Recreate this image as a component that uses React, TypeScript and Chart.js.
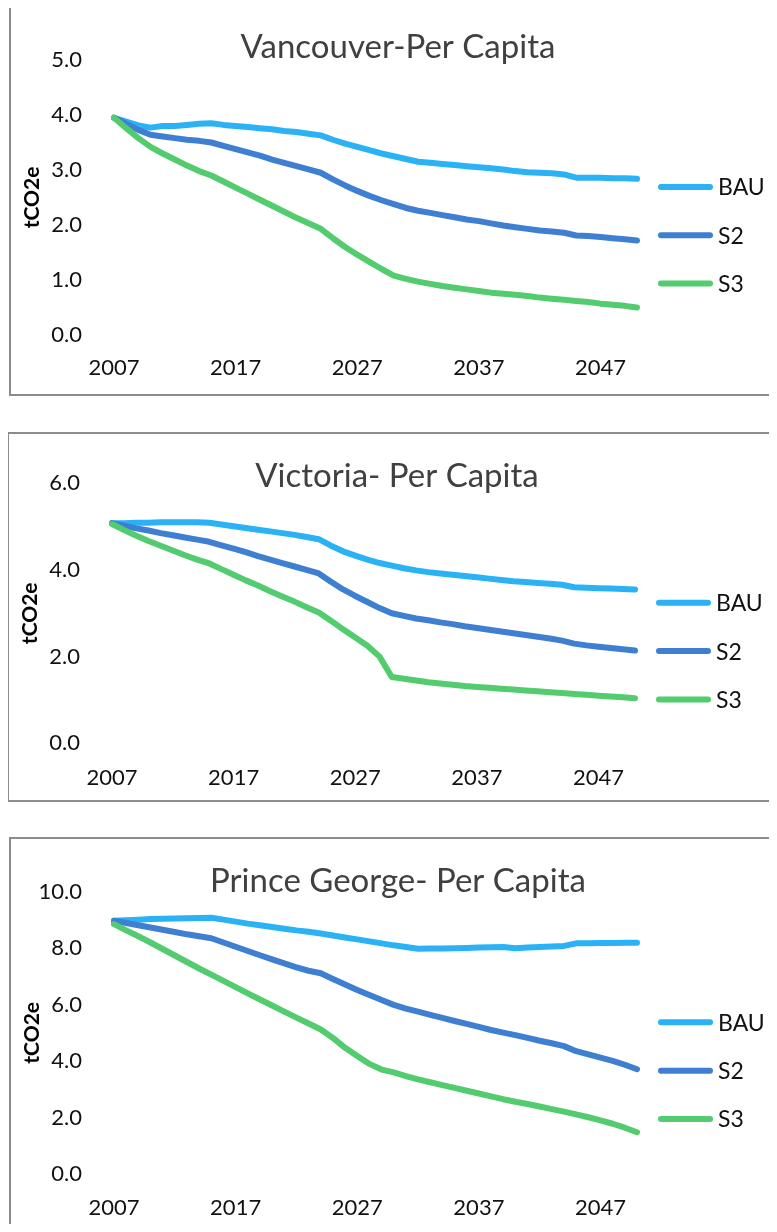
import React, { useEffect, useRef } from 'react';
import { Chart, registerables } from 'chart.js';

Chart.register(...registerables);

// ---------- DATA ----------
const years = [
  '2007', '2008', '2009', '2010', '2011', '2012', '2013', '2014', '2015', '2016',
  '2017', '2018', '2019', '2020', '2021', '2022', '2023', '2024', '2025', '2026',
  '2027', '2028', '2029', '2030', '2031', '2032', '2033', '2034', '2035', '2036',
  '2037', '2038', '2039', '2040', '2041', '2042', '2043', '2044', '2045', '2046',
  '2047', '2048', '2049', '2050',
];
const xTickLabels = ['2007', '2017', '2027', '2037', '2047'];
const seriesNames = ['BAU', 'S2', 'S3'];
const yAxisTitle = 'tCO2e';

const vancouverBAU = [
  3.95, 3.88, 3.81, 3.77, 3.80, 3.80, 3.82, 3.84, 3.85, 3.82,
  3.80, 3.78, 3.76, 3.74, 3.71, 3.69, 3.66, 3.63, 3.55, 3.48,
  3.42, 3.36, 3.30, 3.25, 3.20, 3.15, 3.13, 3.11, 3.09, 3.07,
  3.05, 3.03, 3.01, 2.98, 2.96, 2.95, 2.94, 2.92, 2.86, 2.86,
  2.86, 2.85, 2.85, 2.84,
];
const vancouverS2 = [
  3.95, 3.84, 3.73, 3.64, 3.61, 3.58, 3.55, 3.53, 3.50, 3.44,
  3.38, 3.32, 3.26, 3.19, 3.13, 3.07, 3.01, 2.95, 2.83, 2.72,
  2.62, 2.53, 2.45, 2.38, 2.31, 2.26, 2.22, 2.18, 2.14, 2.10,
  2.07, 2.03, 1.99, 1.96, 1.93, 1.90, 1.88, 1.86, 1.81, 1.80,
  1.78, 1.76, 1.74, 1.72,
];
const vancouverS3 = [
  3.95, 3.76, 3.58, 3.42, 3.30, 3.19, 3.08, 2.98, 2.90, 2.79,
  2.68, 2.57, 2.46, 2.35, 2.24, 2.13, 2.03, 1.93, 1.76, 1.60,
  1.46, 1.33, 1.20, 1.08, 1.02, 0.97, 0.93, 0.89, 0.86, 0.83,
  0.80, 0.77, 0.75, 0.73, 0.71, 0.68, 0.66, 0.64, 0.62, 0.60,
  0.57, 0.55, 0.53, 0.50,
];

const victoriaBAU = [
  5.08, 5.08, 5.09, 5.09, 5.10, 5.10, 5.10, 5.10, 5.09, 5.05,
  5.01, 4.97, 4.93, 4.89, 4.85, 4.81, 4.76, 4.71, 4.56, 4.43,
  4.33, 4.24, 4.16, 4.10, 4.04, 3.99, 3.95, 3.92, 3.89, 3.86,
  3.83, 3.80, 3.77, 3.74, 3.72, 3.70, 3.68, 3.66, 3.60, 3.59,
  3.58, 3.57, 3.56, 3.55,
];
const victoriaS2 = [
  5.08, 5.02, 4.96, 4.91, 4.85, 4.80, 4.75, 4.70, 4.65, 4.57,
  4.49, 4.41, 4.32, 4.24, 4.16, 4.08, 4.00, 3.92, 3.73, 3.55,
  3.40, 3.26, 3.12, 3.00, 2.94, 2.88, 2.84, 2.79, 2.75, 2.70,
  2.66, 2.62, 2.58, 2.54, 2.50, 2.46, 2.42, 2.37, 2.30, 2.26,
  2.23, 2.20, 2.17, 2.14,
];
const victoriaS3 = [
  5.06, 4.92, 4.79, 4.67, 4.56, 4.45, 4.34, 4.24, 4.15, 4.02,
  3.89, 3.76, 3.64, 3.51, 3.39, 3.27, 3.14, 3.02, 2.83, 2.63,
  2.44, 2.25, 2.00, 1.53, 1.49, 1.45, 1.41, 1.38, 1.35, 1.32,
  1.30, 1.28, 1.26, 1.24, 1.22, 1.20, 1.18, 1.16, 1.14, 1.12,
  1.10, 1.08, 1.06, 1.04,
];

const princeGeorgeBAU = [
  8.97, 8.99, 9.01, 9.03, 9.04, 9.05, 9.06, 9.07, 9.08, 9.01,
  8.94, 8.87, 8.81, 8.75, 8.69, 8.63, 8.58, 8.52, 8.45, 8.38,
  8.31, 8.24, 8.17, 8.10, 8.04, 7.98, 7.99, 7.99, 8.00, 8.01,
  8.02, 8.03, 8.04, 8.00, 8.02, 8.04, 8.06, 8.08, 8.17, 8.17,
  8.18, 8.18, 8.19, 8.19,
];
const princeGeorgeS2 = [
  8.97, 8.89, 8.81, 8.73, 8.65, 8.57, 8.49, 8.42, 8.35, 8.20,
  8.05, 7.90, 7.75, 7.60, 7.46, 7.32, 7.20, 7.11, 6.91, 6.71,
  6.52, 6.34, 6.16, 5.99, 5.86, 5.75, 5.64, 5.53, 5.42, 5.32,
  5.21, 5.10, 5.01, 4.92, 4.82, 4.72, 4.63, 4.53, 4.35, 4.24,
  4.12, 4.01, 3.87, 3.71,
];
const princeGeorgeS3 = [
  8.85, 8.63, 8.42, 8.20, 7.97, 7.74, 7.51, 7.28, 7.06, 6.84,
  6.62, 6.40, 6.18, 5.97, 5.75, 5.54, 5.33, 5.12, 4.82, 4.47,
  4.18, 3.90, 3.70, 3.60, 3.47, 3.35, 3.25, 3.15, 3.05, 2.95,
  2.85, 2.75, 2.65, 2.56, 2.48, 2.39, 2.30, 2.21, 2.11, 2.01,
  1.90, 1.78, 1.64, 1.48,
];

// ---------- STYLE ----------
const FONT = 'Lato, "Open Sans", sans-serif';
const COLORS = ['#2AB2F4', '#3F7FD2', '#53CB6F'];
const TICK_COLOR = '#111111';

const sideLegendPlugin = {
  id: 'sideLegend',
  afterDatasetsDraw(chart: any, _args: any, opts: any) {
    const { ctx, chartArea } = chart;
    const ds = chart.data.datasets;
    const n = ds.length;
    const cy = (chartArea.top + chartArea.bottom) / 2 + opts.centerOffset;
    ctx.save();
    ds.forEach((d: any, i: number) => {
      const y = cy + (i - (n - 1) / 2) * opts.spacing;
      const x0 = chartArea.right + opts.offsetX;
      ctx.strokeStyle = d.borderColor;
      ctx.lineWidth = opts.lineWidth;
      ctx.lineCap = 'round';
      ctx.beginPath();
      ctx.moveTo(x0, y);
      ctx.lineTo(x0 + opts.lineLength, y);
      ctx.stroke();
      ctx.fillStyle = opts.color;
      ctx.font = `${opts.fontSize}px ${FONT}`;
      ctx.textBaseline = 'middle';
      ctx.textAlign = 'left';
      ctx.fillText(d.label, x0 + opts.lineLength + opts.gap, y + 1);
    });
    ctx.restore();
  },
};

type Params = {
  title: string;
  series: number[][];
  yMax: number;
  yStep: number;
  width: number;
  height: number;
  plotTop: number;
  plotBottom: number;
  titleCenter: number;
  xLabelOffset: number;
  yScaleWidth: number;
  plotRight: number;
};

function makeConfig(p: Params): any {
  const titleSize = 33;
  const titleLH = 0.3;
  const half = (titleSize * titleLH) / 2;
  const tickSize = 22;
  const tickLH = tickSize * 1.2;
  const xPad = p.xLabelOffset - tickLH / 2;
  // Chart.js counts the tick padding twice in the scale height
  const xScaleH = 2 * xPad + tickLH;
  const padBottom = p.height - p.plotBottom - xScaleH;
  const spacerW = p.width - p.plotRight;
  return {
    type: 'line',
    data: {
      labels: years,
      datasets: seriesNames.map((name, i) => ({
        label: name,
        data: p.series[i],
        borderColor: COLORS[i],
        backgroundColor: COLORS[i],
        borderWidth: 6,
        pointRadius: 0,
        pointHoverRadius: 0,
        tension: 0,
        fill: false,
        borderCapStyle: 'round',
        borderJoinStyle: 'round',
        order: seriesNames.length - 1 - i,
      })),
    },
    options: {
      responsive: false,
      animation: false,
      events: [],
      layout: { padding: { left: 0, right: 0, top: 0, bottom: padBottom } },
      plugins: {
        legend: { display: false },
        tooltip: { enabled: false },
        title: {
          display: true,
          text: p.title,
          color: '#404040',
          font: { family: FONT, size: titleSize, weight: 'normal', lineHeight: titleLH },
          padding: { top: p.titleCenter - half, bottom: p.plotTop - p.titleCenter - half },
        },
        sideLegend: {
          centerOffset: 37.8,
          spacing: 48.3,
          offsetX: 24,
          lineLength: 49,
          lineWidth: 6,
          gap: 8,
          fontSize: 23,
          color: TICK_COLOR,
        },
      },
      scales: {
        x: {
          type: 'category',
          offset: false,
          grid: { display: false, drawTicks: false },
          border: { display: false },
          ticks: {
            autoSkip: false,
            maxRotation: 0,
            minRotation: 0,
            padding: xPad,
            color: TICK_COLOR,
            font: { family: FONT, size: tickSize },
            callback: (_v: any, i: number) => (xTickLabels.includes(years[i]) ? years[i] : ''),
          },
        },
        y: {
          type: 'linear',
          position: 'left',
          min: 0,
          max: p.yMax,
          grid: { display: false, drawTicks: false },
          border: { display: false },
          ticks: {
            stepSize: p.yStep,
            padding: 32,
            color: TICK_COLOR,
            font: { family: FONT, size: tickSize },
            callback: (v: any) => Number(v).toFixed(1),
          },
          title: {
            display: true,
            text: yAxisTitle,
            color: '#000000',
            font: { family: FONT, size: 21, weight: 'bold' },
            padding: { top: 11, bottom: 0 },
          },
          afterFit: (s: any) => {
            s.width = p.yScaleWidth;
          },
        },
        spacer: {
          type: 'linear',
          position: 'right',
          display: true,
          grid: { display: false, drawTicks: false },
          border: { display: false },
          ticks: { display: false },
          afterFit: (s: any) => {
            s.width = spacerW;
          },
        },
      },
    },
    plugins: [sideLegendPlugin],
  };
}

function LineChart({ params, left, top }: { params: Params; left: number; top: number }) {
  const ref = useRef<HTMLCanvasElement>(null);
  useEffect(() => {
    if (!ref.current) return;
    const chart = new Chart(ref.current, makeConfig(params));
    return () => chart.destroy();
  }, []);
  return (
    <canvas
      ref={ref}
      width={params.width}
      height={params.height}
      style={{ position: 'absolute', left, top, width: params.width, height: params.height }}
    />
  );
}

function Frame({ left, top, height }: { left: number; top: number; height: number }) {
  return (
    <div
      style={{
        position: 'absolute',
        left,
        top,
        width: 820,
        height,
        border: '2px solid #8c8c8c',
        boxSizing: 'border-box',
      }}
    />
  );
}

const chart1: Params = {
  title: 'Vancouver-Per Capita',
  series: [vancouverBAU, vancouverS2, vancouverS3],
  yMax: 5,
  yStep: 1,
  width: 778,
  height: 391,
  plotTop: 55,
  plotBottom: 330,
  titleCenter: 42,
  xLabelOffset: 33.3,
  yScaleWidth: 105,
  plotRight: 628,
};

const chart2: Params = {
  title: 'Victoria- Per Capita',
  series: [victoriaBAU, victoriaS2, victoriaS3],
  yMax: 6,
  yStep: 2,
  width: 780,
  height: 370,
  plotTop: 51.3,
  plotBottom: 311.3,
  titleCenter: 44.7,
  xLabelOffset: 35,
  yScaleWidth: 105,
  plotRight: 628,
};

const chart3: Params = {
  title: 'Prince George- Per Capita',
  series: [princeGeorgeBAU, princeGeorgeS2, princeGeorgeS3],
  yMax: 10,
  yStep: 2,
  width: 778,
  height: 420,
  plotTop: 54.7,
  plotBottom: 337,
  titleCenter: 44,
  xLabelOffset: 34,
  yScaleWidth: 105,
  plotRight: 628,
};

export default function App() {
  return (
    <div
      style={{
        position: 'relative',
        margin: -8,
        width: 777,
        height: 1232,
        overflow: 'hidden',
        background: '#ffffff',
      }}
    >
      <Frame left={9} top={5} height={391} />
      <Frame left={7} top={432} height={370} />
      <Frame left={9} top={837} height={440} />
      <LineChart params={chart1} left={9} top={5} />
      <LineChart params={chart2} left={7} top={432} />
      <LineChart params={chart3} left={9} top={837} />
    </div>
  );
}
